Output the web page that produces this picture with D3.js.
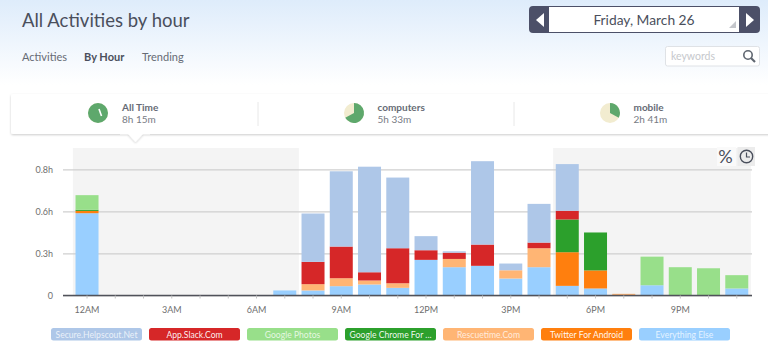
<!DOCTYPE html>
<html>
<head>
<meta charset="utf-8">
<script src="https://cdn.jsdelivr.net/npm/d3@7"></script>
<style>
    html, body { margin: 0; padding: 0; background: #fff; overflow: hidden; }
    svg { display: block; }
    text { font-family: Lato, "Open Sans", sans-serif; }
    .axis text { font-size: 9px; fill: #6f6f6f; }
    .x-axis .domain { stroke: #50525a; stroke-width: 1.5px; }
    .x-axis line { stroke: #c4c4c4; }
    .y-axis .domain { display: none; }
    .y-axis line { stroke: #cfcfcf; stroke-width: 1.2px; }
</style>
</head>
<body>
<div id="chart"></div>
<script>
const hours = ["12AM", "1AM", "2AM", "3AM", "4AM", "5AM", "6AM", "7AM", "8AM", "9AM", "10AM", "11AM",
    "12PM", "1PM", "2PM", "3PM", "4PM", "5PM", "6PM", "7PM", "8PM", "9PM", "10PM", "11PM"];

// values in hours
const everythingElse = [0.538, 0, 0, 0, 0, 0, 0, 0.033, 0.033, 0.061, 0.072, 0.05, 0.233, 0.185, 0.194, 0.111, 0.185, 0.063, 0.046, 0, 0.067, 0, 0, 0.046];
const twitter = [0.015, 0, 0, 0, 0, 0, 0, 0, 0, 0, 0, 0, 0, 0, 0, 0, 0, 0.22, 0.118, 0, 0, 0, 0, 0];
const rescuetime = [0, 0, 0, 0, 0, 0, 0, 0, 0.041, 0.052, 0.026, 0.03, 0, 0.054, 0, 0.054, 0.124, 0, 0, 0.011, 0, 0, 0, 0];
const chrome = [0.007, 0, 0, 0, 0, 0, 0, 0, 0, 0, 0, 0, 0, 0, 0, 0, 0, 0.214, 0.248, 0, 0, 0, 0, 0];
const photos = [0.096, 0, 0, 0, 0, 0, 0, 0, 0, 0, 0, 0, 0, 0, 0, 0, 0, 0, 0, 0, 0.187, 0.185, 0.178, 0.087];
const slack = [0, 0, 0, 0, 0, 0, 0, 0, 0.146, 0.207, 0.054, 0.229, 0.063, 0.041, 0.139, 0, 0.037, 0.057, 0, 0, 0, 0, 0, 0];
const helpscout = [0, 0, 0, 0, 0, 0, 0, 0, 0.316, 0.492, 0.69, 0.462, 0.092, 0.009, 0.545, 0.044, 0.253, 0.305, 0, 0, 0, 0, 0, 0];

const seriesKeys = ["everything", "twitter", "rescuetime", "chrome", "photos", "slack", "helpscout"];
const seriesValues = [everythingElse, twitter, rescuetime, chrome, photos, slack, helpscout];
const seriesColors = ["#99cfff", "#ff7f0e", "#ffb574", "#2ca02c", "#98df8a", "#d62728", "#aec7e8"];

const legendLabels = ["Secure.Helpscout.Net", "App.Slack.Com", "Google Photos", "Google Chrome For ...", "Rescuetime.Com", "Twitter For Android", "Everything Else"];
const legendColors = ["#aec7e8", "#d62728", "#98df8a", "#2ca02c", "#ffb574", "#ff7f0e", "#99cfff"];

const yTicks = [0, 0.275, 0.55, 0.825];
const yTickLabels = ["0", "0.3h", "0.6h", "0.8h"];
const xTickHours = ["12AM", "3AM", "6AM", "9AM", "12PM", "3PM", "6PM", "9PM"];

// off hours are shaded behind the bars
const shadedRanges = [["12AM", "7AM"], ["5PM", "11PM"]];

const summaryTitles = ["All Time", "computers", "mobile"];
const summaryTimes = ["8h 15m", "5h 33m", "2h 41m"];
const summaryShares = [1, 0.67, 0.33];

const navLabels = ["Activities", "By Hour", "Trending"];

const width = 768, height = 351;

const svg = d3.select("#chart").append("svg")
    .attr("width", width)
    .attr("height", height);

const defs = svg.append("defs");

const grad = defs.append("linearGradient")
    .attr("id", "bg")
    .attr("x1", 0).attr("x2", 0).attr("y1", 0).attr("y2", 1);
grad.append("stop").attr("offset", 0).attr("stop-color", "#deecfb");
grad.append("stop").attr("offset", 1).attr("stop-color", "#ffffff");

const shadow = defs.append("filter")
    .attr("id", "shadow")
    .attr("x", "-5%").attr("y", "-20%").attr("width", "110%").attr("height", "150%");
shadow.append("feDropShadow")
    .attr("dx", 0).attr("dy", 1).attr("stdDeviation", 1)
    .attr("flood-color", "#000").attr("flood-opacity", 0.2);

svg.append("rect")
    .attr("width", width)
    .attr("height", 85)
    .attr("fill", "url(#bg)");

// Header
svg.append("text")
    .attr("x", 22).attr("y", 27)
    .attr("font-size", 18.5)
    .attr("fill", "#4a4f5c")
    .text("All Activities by hour");

const navX = [22, 84, 142];
svg.selectAll(".nav")
    .data(navLabels)
    .enter()
    .append("text")
    .attr("class", "nav")
    .attr("x", (d, i) => navX[i])
    .attr("y", 61)
    .attr("font-size", 11)
    .attr("font-weight", d => d === "By Hour" ? 700 : 400)
    .attr("fill", d => d === "By Hour" ? "#4a4f5c" : "#666b75")
    .text(d => d);

// Date picker
svg.append("rect")
    .attr("x", 529).attr("y", 6).attr("width", 231).attr("height", 27).attr("rx", 4)
    .attr("fill", "#4c5068");
svg.append("rect")
    .attr("x", 549).attr("y", 7).attr("width", 190).attr("height", 25)
    .attr("fill", "#fff");
svg.append("path").attr("d", "M 544,13 L 536,20 L 544,27 Z").attr("fill", "#fff");
svg.append("path").attr("d", "M 746,13 L 754,20 L 746,27 Z").attr("fill", "#fff");
svg.append("path").attr("d", "M 736,21 L 736,28 L 729,28 Z").attr("fill", "#c4c6cb");
svg.append("text")
    .attr("x", 644).attr("y", 25)
    .attr("text-anchor", "middle")
    .attr("font-size", 13.8)
    .attr("fill", "#4a4f5c")
    .text("Friday, March 26");

// Search box
svg.append("rect")
    .attr("x", 665.5).attr("y", 46.5).attr("width", 94).attr("height", 19.5).attr("rx", 2)
    .attr("fill", "#fff").attr("stroke", "#dfe2e6");
svg.append("text")
    .attr("x", 671).attr("y", 60)
    .attr("font-size", 10.5)
    .attr("fill", "#c6c8cc")
    .text("keywords");
svg.append("circle")
    .attr("cx", 748).attr("cy", 55).attr("r", 4.2)
    .attr("fill", "none").attr("stroke", "#5f6670").attr("stroke-width", 1.6);
svg.append("path")
    .attr("d", "M 751,58 L 755,62")
    .attr("stroke", "#5f6670").attr("stroke-width", 2.2);

// Summary card, runs off the right edge
const card = svg.append("g");
card.append("rect")
    .attr("x", 11).attr("y", 94).attr("width", 770).attr("height", 40).attr("rx", 2)
    .attr("fill", "#fff")
    .attr("filter", "url(#shadow)");
card.append("path")
    .attr("d", "M 128,134 L 135.5,142 L 143,134 Z")
    .attr("fill", "#fff")
    .attr("filter", "url(#shadow)");
card.append("rect")
    .attr("x", 120).attr("y", 131).attr("width", 30).attr("height", 3.5)
    .attr("fill", "#fff");

[258, 514].forEach(x => {
    card.append("line")
        .attr("x1", x).attr("x2", x).attr("y1", 102).attr("y2", 126)
        .attr("stroke", "#e8e8e8");
});

const pieX = [98, 354, 610];
const labelX = [122, 377.5, 633.5];
const arc = d3.arc().innerRadius(0).outerRadius(10);

summaryTitles.forEach((title, i) => {
    const g = card.append("g").attr("transform", "translate(" + pieX[i] + ",113)");
    g.append("circle").attr("r", 10).attr("fill", "#f2ecd0");
    g.append("path")
        .attr("d", arc({ startAngle: 0, endAngle: summaryShares[i] * 2 * Math.PI }))
        .attr("fill", "#5ea86c");
    if (i === 0) {
        g.append("path")
            .attr("d", "M 1,-4 L 3.5,3")
            .attr("fill", "none")
            .attr("stroke", "#fff")
            .attr("stroke-width", 1.6);
    }
    card.append("text")
        .attr("x", labelX[i]).attr("y", 110.5)
        .attr("font-size", 10)
        .attr("font-weight", 700)
        .attr("fill", "#666b75")
        .text(title);
    card.append("text")
        .attr("x", labelX[i]).attr("y", 122.5)
        .attr("font-size", 10)
        .attr("fill", "#777b84")
        .text(summaryTimes[i]);
});

// Chart scales
const x = d3.scaleBand()
    .domain(hours)
    .range([72.9, 750.9])
    .paddingInner(0.186)
    .paddingOuter(0.093);

const y = d3.scaleLinear()
    .domain([0, 0.825])
    .range([295.5, 169.3]);

// Shaded off hours
svg.selectAll(".shade")
    .data(shadedRanges)
    .enter()
    .append("rect")
    .attr("class", "shade")
    .attr("x", d => x(d[0]) - x.step() * x.paddingOuter())
    .attr("y", 148)
    .attr("width", d => x(d[1]) - x(d[0]) + x.step())
    .attr("height", 147.5)
    .attr("fill", "#f4f4f4");

// Y axis draws the grid lines
svg.append("g")
    .attr("class", "axis y-axis")
    .attr("transform", "translate(752,0)")
    .call(d3.axisLeft(y)
        .tickValues(yTicks)
        .tickSize(689)
        .tickPadding(10)
        .tickFormat((d, i) => yTickLabels[i]));

// Stacked bars
const rows = hours.map((h, i) => {
    const row = { hour: h };
    seriesKeys.forEach((k, j) => { row[k] = seriesValues[j][i]; });
    return row;
});

const stacked = d3.stack().keys(seriesKeys)(rows);

svg.selectAll(".series")
    .data(stacked)
    .enter()
    .append("g")
    .attr("class", "series")
    .attr("fill", (d, i) => seriesColors[i])
    .selectAll("rect")
    .data(d => d)
    .enter()
    .append("rect")
    .attr("x", d => x(d.data.hour))
    .attr("y", d => y(d[1]))
    .attr("width", x.bandwidth())
    .attr("height", d => y(d[0]) - y(d[1]));

// X axis
svg.append("g")
    .attr("class", "axis x-axis")
    .attr("transform", "translate(0,295.5)")
    .call(d3.axisBottom(x)
        .tickSize(3)
        .tickSizeOuter(0)
        .tickPadding(8)
        .tickFormat(d => xTickHours.includes(d) ? d : ""))
    .call(g => g.select(".domain").attr("d", "M 63,0 L 752,0"));

// Toggle buttons
svg.append("rect")
    .attr("x", 717).attr("y", 147).attr("width", 19).attr("height", 19).attr("fill", "#fafafa");
svg.append("rect")
    .attr("x", 737.5).attr("y", 147).attr("width", 17.5).attr("height", 19).attr("fill", "#ececec");
svg.append("text")
    .attr("x", 725.5).attr("y", 162.5)
    .attr("text-anchor", "middle")
    .attr("font-size", 18)
    .attr("fill", "#4a4f5c")
    .text("%");
svg.append("circle")
    .attr("cx", 746.5).attr("cy", 156.5).attr("r", 6.2)
    .attr("fill", "none").attr("stroke", "#4a4f5c").attr("stroke-width", 1.4);
svg.append("path")
    .attr("d", "M 746.5,152.5 L 746.5,157 L 750,157")
    .attr("fill", "none").attr("stroke", "#4a4f5c").attr("stroke-width", 1.2);

// Legend pills
const legend = svg.selectAll(".legend")
    .data(legendLabels)
    .enter()
    .append("g")
    .attr("class", "legend")
    .attr("transform", (d, i) => "translate(" + (51 + i * 98) + ",328)");

legend.append("rect")
    .attr("width", 91).attr("height", 12.5).attr("rx", 2.5)
    .attr("fill", (d, i) => legendColors[i]);

legend.append("text")
    .attr("x", 45.5).attr("y", 9.6)
    .attr("text-anchor", "middle")
    .attr("font-size", 8.6)
    .attr("fill", "#fff")
    .attr("fill-opacity", (d, i) => [1, 3, 5].includes(i) ? 0.95 : 0.75)
    .text(d => d);
</script>
</body>
</html>
